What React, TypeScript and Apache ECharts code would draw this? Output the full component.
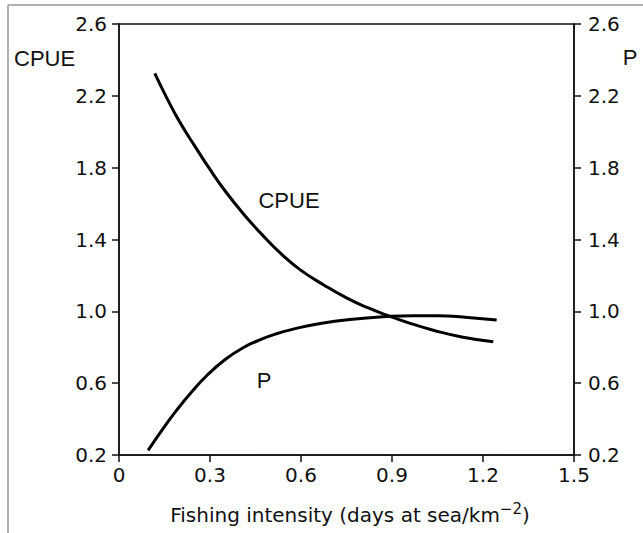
import React, { useEffect, useRef } from "react";
import * as echarts from "echarts";

// Fishing intensity (days at sea/km^-2)
const cpueX = [0.118, 0.16, 0.2, 0.25, 0.3, 0.35, 0.409, 0.47, 0.541, 0.6, 0.675, 0.75, 0.82, 0.893, 0.96, 1.036, 1.13, 1.234];
const cpueY = [2.325, 2.18, 2.055, 1.92, 1.79, 1.67, 1.545, 1.43, 1.31, 1.228, 1.147, 1.075, 1.02, 0.972, 0.933, 0.895, 0.857, 0.83];

const pX = [0.096, 0.14, 0.189, 0.24, 0.288, 0.35, 0.409, 0.47, 0.519, 0.585, 0.65, 0.761, 0.893, 0.97, 1.05, 1.15, 1.245];
const pY = [0.226, 0.335, 0.447, 0.552, 0.64, 0.732, 0.797, 0.845, 0.875, 0.905, 0.928, 0.954, 0.972, 0.976, 0.976, 0.966, 0.952];

const Y_BASE = 0.2; // axis starts at 0.2
const Y_TOP = 2.6;
const Y_STEP = 0.4;
const X_MAX = 1.5;
const X_STEP = 0.3;

const FONT = "Arial";
const TICK_FONT = "DejaVu Sans";

export default function App() {
  const ref = useRef<HTMLDivElement>(null);
  useEffect(() => {
    document.body.style.margin = "0";
    if (!ref.current) return;
    const chart = echarts.init(ref.current, null, { renderer: "svg" });
    const toData = (xs: number[], ys: number[]) => xs.map((x, i) => [x, ys[i] - Y_BASE]);
    const yFmt = (v: number) => (v + Y_BASE).toFixed(1);
    const xFmt = (v: number) => (v === 0 ? "0" : v.toFixed(1));
    const axisStyle = { color: "#111", width: 1.5 };
    const tickLabel = { fontSize: 20, fontFamily: TICK_FONT, color: "#111" };
    chart.setOption({
      animation: false,
      backgroundColor: "#fff",
      textStyle: { fontFamily: FONT, fontSize: 20, color: "#111" },
      grid: { left: 119, right: 69, top: 24, bottom: 78, show: true, borderColor: "#111", borderWidth: 1.5 },
      xAxis: {
        type: "value",
        min: 0,
        max: X_MAX,
        interval: X_STEP,
        splitLine: { show: false },
        axisLine: { show: true, lineStyle: axisStyle, onZero: false },
        axisTick: { show: true, length: 7, lineStyle: axisStyle },
        axisLabel: { ...tickLabel, formatter: xFmt, margin: 10 },
      },
      yAxis: [
        {
          type: "value",
          position: "left",
          min: 0,
          max: Y_TOP - Y_BASE,
          interval: Y_STEP,
          splitLine: { show: false },
          axisLine: { show: true, lineStyle: axisStyle },
          axisTick: { show: true, length: 7, lineStyle: axisStyle },
          axisLabel: { ...tickLabel, formatter: yFmt, margin: 12 },
        },
        {
          type: "value",
          position: "right",
          min: 0,
          max: Y_TOP - Y_BASE,
          interval: Y_STEP,
          splitLine: { show: false },
          axisLine: { show: true, lineStyle: axisStyle },
          axisTick: { show: true, length: 7, lineStyle: axisStyle },
          axisLabel: { ...tickLabel, formatter: yFmt, margin: 14 },
        },
      ],
      series: [
        {
          name: "CPUE",
          type: "line",
          yAxisIndex: 0,
          data: toData(cpueX, cpueY),
          smooth: 0.5,
          symbol: "none",
          lineStyle: { color: "#000", width: 3 },
        },
        {
          name: "P",
          type: "line",
          yAxisIndex: 1,
          data: toData(pX, pY),
          smooth: 0.5,
          symbol: "none",
          lineStyle: { color: "#000", width: 3 },
        },
      ],
      graphic: [
        { type: "line", shape: { x1: 8, y1: 5, x2: 643, y2: 5 }, style: { stroke: "#999", lineWidth: 1.5 } },
        { type: "line", shape: { x1: 8, y1: 5, x2: 8, y2: 533 }, style: { stroke: "#999", lineWidth: 1.5 } },
        {
          type: "text",
          x: 14,
          y: 58,
          style: { text: "CPUE", fontSize: 22, fontFamily: FONT, fill: "#111", textAlign: "left", textVerticalAlign: "middle" },
        },
        {
          type: "text",
          x: 630,
          y: 57,
          style: { text: "P", fontSize: 22, fontFamily: FONT, fill: "#111", textAlign: "center", textVerticalAlign: "middle" },
        },
        {
          type: "text",
          x: 289,
          y: 200,
          style: { text: "CPUE", fontSize: 22, fontFamily: FONT, fill: "#111", textAlign: "center", textVerticalAlign: "middle" },
        },
        {
          type: "text",
          x: 264,
          y: 380,
          style: { text: "P", fontSize: 22, fontFamily: FONT, fill: "#111", textAlign: "center", textVerticalAlign: "middle" },
        },
        {
          type: "text",
          x: 350,
          y: 513,
          style: {
            text: "{n|Fishing intensity (days at sea/km}{s|−2}{n|)}",
            textAlign: "center",
            textVerticalAlign: "middle",
            rich: {
              n: { fontSize: 20, fontFamily: TICK_FONT, fill: "#111", color: "#111", verticalAlign: "bottom", lineHeight: 24 },
              s: { fontSize: 15, fontFamily: TICK_FONT, fill: "#111", color: "#111", verticalAlign: "top", lineHeight: 24, padding: [0, 0, 10, 0] },
            },
          },
        },
      ],
    });
    return () => chart.dispose();
  }, []);
  return <div ref={ref} style={{ width: 643, height: 533 }} />;
}
